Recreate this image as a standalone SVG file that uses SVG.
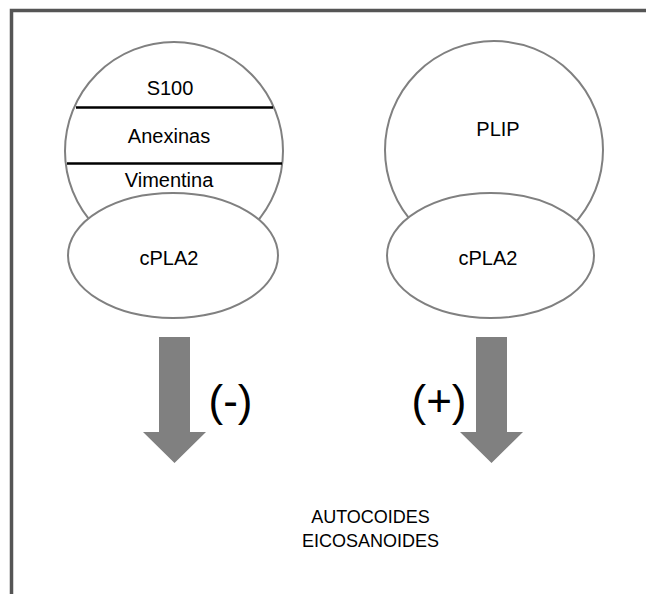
<svg xmlns="http://www.w3.org/2000/svg" width="646" height="594" viewBox="0 0 646 594">
<style>
.shape{fill:#fff;stroke:#808080;stroke-width:2}
.t{font-family:"Liberation Sans",Arial,sans-serif;font-size:20px;fill:#000;text-anchor:middle}
.big{font-family:"Liberation Sans",Arial,sans-serif;font-size:44px;fill:#000;text-anchor:middle}
.arrow{fill:#808080}
.sep{stroke:#000;stroke-width:2.5}
</style>
<rect x="0" y="0" width="646" height="594" fill="#fff"/>
<path d="M11.5 594 V10.5 H646" fill="none" stroke="#555" stroke-width="3.5"/>
<g id="left-complex">
  <circle class="shape" cx="174" cy="151" r="109"/>
  <line class="sep" x1="76" y1="107.5" x2="273" y2="107.5"/>
  <line class="sep" x1="67" y1="163.5" x2="282" y2="163.5"/>
  <text class="t" x="170" y="95">S100</text>
  <text class="t" x="169" y="143">Anexinas</text>
  <text class="t" x="169" y="187">Vimentina</text>
</g>
<g id="left-cpla2">
  <ellipse class="shape" cx="173" cy="255.5" rx="105" ry="62.5"/>
  <text class="t" x="169" y="265">cPLA2</text>
</g>
<g id="plip">
  <circle class="shape" cx="494" cy="150" r="109"/>
  <text class="t" x="498" y="136">PLIP</text>
</g>
<g id="right-cpla2">
  <ellipse class="shape" cx="490.5" cy="255.5" rx="103.5" ry="62.5"/>
  <text class="t" x="488" y="265">cPLA2</text>
</g>
<g id="connectors">
  <polygon class="arrow" points="159,337 190,337 190,432 206,432 174.5,463 143,432 159,432"/>
  <polygon class="arrow" points="476,337 507,337 507,432 523,432 491.5,463 460,432 476,432"/>
</g>
<g id="labels">
  <text class="big" x="230.5" y="416">(-)</text>
  <text class="big" x="439" y="416">(+)</text>
</g>
<g id="product">
  <text class="t" style="font-size:18px" x="370.5" y="523">AUTOCOIDES</text>
  <text class="t" style="font-size:18px" x="370.5" y="547">EICOSANOIDES</text>
</g>
</svg>
